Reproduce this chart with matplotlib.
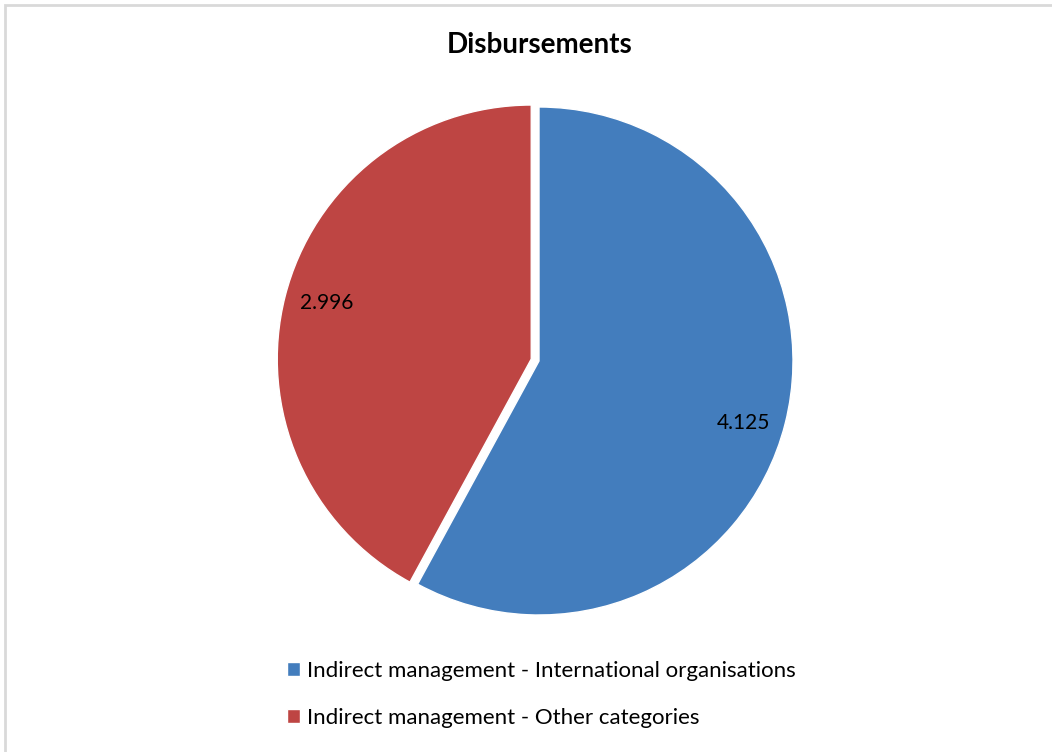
import matplotlib.pyplot as plt
from matplotlib.patches import Rectangle

# chart data
categories = ["Indirect management - International organisations",
              "Indirect management - Other categories"]
values = [4.125, 2.996]
colors = ["#437DBD", "#BE4543"]

W, H = 1052, 752
fig = plt.figure(figsize=(W / 100, H / 100), dpi=100)
ax = fig.add_axes([0, 0, 1, 1])

total = sum(values)
# explode is in data units here (axes are in pixels)
wedges, texts, autotexts = ax.pie(
    values,
    colors=colors,
    startangle=90,
    counterclock=False,
    explode=[0, 8],
    center=(539, H - 361),
    radius=254,
    autopct=lambda p: f"{p * total / 100:.3f}",
    pctdistance=0.83,
    wedgeprops=dict(edgecolor="white", linewidth=1),
    textprops=dict(fontsize=15, family="Lato", color="black"),
)
# small nudges of the labels, as in the original
x, y = autotexts[0].get_position()
autotexts[0].set_position((x, y - 10))
x, y = autotexts[1].get_position()
autotexts[1].set_position((x, y + 4))

ax.set_xlim(0, W)
ax.set_ylim(0, H)
ax.set_aspect("equal")
ax.axis("off")

# chart frame
ax.add_patch(Rectangle((5, -10), W + 10, H - 5 + 10, fill=False,
                       edgecolor="#D9D9D9", linewidth=2, clip_on=False))

fig.text(540 / W, 1 - 45 / H, "Disbursements", ha="center", va="center",
         fontsize=20, fontweight="bold", family="Lato")

leg = ax.legend(wedges, categories, loc="upper left",
                bbox_to_anchor=(267 / W, 1 - 641 / H), frameon=False,
                prop=dict(family="Lato", size=16), handlelength=0.6,
                handleheight=0.6, handletextpad=0.3, labelspacing=1.2)

fig.savefig("out.png", dpi=100)
